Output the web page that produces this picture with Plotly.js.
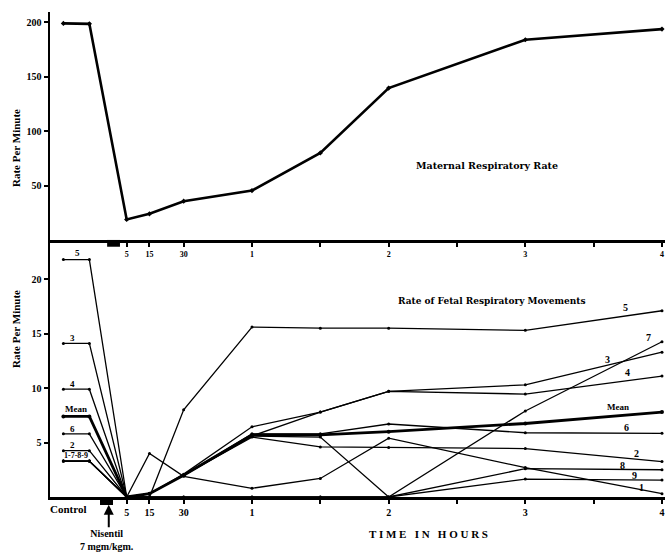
<!DOCTYPE html>
<html><head><meta charset="utf-8">
<script src="https://cdn.plot.ly/plotly-3.0.1.min.js"></script>
<style>html,body{margin:0;padding:0;background:#fff}</style>
</head><body><div id="chart" style="width:667px;height:553px"></div>
<script>
// time in hours (negative = control period)
const times = [-0.38, -0.19, 0.083, 0.25, 0.5, 1, 1.5, 2, 3, 4];
const maternalRate = [199, 198.6, 18.8, 24, 35.6, 45.4, 80, 139.6, 184, 193.8];

const fetus1 = [3.3, 3.3, 0, 4.0, 1.9, 0.8, 1.7, 5.4, 2.7, 0.3];
const fetus2 = [4.25, 4.25, 0, 0.3, 2.0, 5.5, 4.6, 4.55, 4.45, 3.25];
const fetus3 = [14.1, 14.1, 0, 0.3, 2.1, 6.45, 7.8, 9.7, 10.3, 13.3];
const fetus4 = [9.9, 9.9, 0, 0.3, 2.0, 5.6, 7.8, 9.7, 9.45, 11.1];
const fetus5 = [21.8, 21.8, 0, 0, 8.0, 15.6, 15.5, 15.5, 15.3, 17.1];
const fetus6 = [5.8, 5.8, 0, 0.3, 2.0, 5.8, 5.8, 6.7, 5.9, 5.85];
const fetus7 = [3.3, 3.3, 0, 0, 0, 0, 0, 0, 7.9, 14.25];
const fetus8 = [3.3, 3.3, 0, 0.3, 2.0, 5.6, 5.5, 0, 2.6, 2.5];
const fetus9 = [3.3, 3.3, 0, 0, 0, 0, 0, 0, 1.65, 1.55];
const fetalMean = [7.4, 7.4, 0, 0.3, 2.0, 5.7, 5.7, 6.0, 6.75, 7.8];

const tickVals = [0.083, 0.25, 0.5, 1, 1.5, 2, 2.5, 3, 3.5, 4];
const tickText = ["5", "15", "30", "1", "", "2", "", "3", "", "4"];
const topYTicks = [50, 100, 150, 200];
const bottomYTicks = [5, 10, 15, 20];

const FONT = "Liberation Serif";
const WIDE = "DejaVu Serif";
const fetalList = [
  {name: "1", v: fetus1}, {name: "2", v: fetus2}, {name: "3", v: fetus3},
  {name: "4", v: fetus4}, {name: "5", v: fetus5}, {name: "6", v: fetus6},
  {name: "7", v: fetus7}, {name: "8", v: fetus8}, {name: "9", v: fetus9}
];

const traces = [];
traces.push({
  x: times, y: maternalRate, xaxis: "x2", yaxis: "y2", mode: "lines+markers",
  line: {color: "#000", width: 2.6}, marker: {color: "#000", size: 4, symbol: "diamond"},
  hoverinfo: "skip"
});
fetalList.forEach(f => traces.push({
  x: times, y: f.v, xaxis: "x", yaxis: "y", mode: "lines+markers", name: f.name,
  line: {color: "#000", width: 1.3}, marker: {color: "#000", size: 3},
  hoverinfo: "skip"
}));
traces.push({
  x: times, y: fetalMean, xaxis: "x", yaxis: "y", mode: "lines+markers", name: "Mean",
  line: {color: "#000", width: 2.8}, marker: {color: "#000", size: 4},
  hoverinfo: "skip"
});

const xr = [-0.478, 4.022];
const tf = {family: FONT, size: 10, color: "#000", weight: 700};

function lab(text, x, y, size, fam) {
  return {text: text, x: x, y: y, xref: "x", yref: "y", showarrow: false,
    font: {family: fam || FONT, size: size || 10, color: "#000", weight: 700}};
}
function paperLab(text, x, y, size) {
  return {text: text, x: x, y: y, xref: "x", yref: "paper", showarrow: false,
    font: {family: FONT, size: size || 10, color: "#000", weight: 700}};
}

const annotations = [
  // left control labels
  lab("5", -0.28, 22.4, 9), lab("3", -0.316, 14.6, 9), lab("4", -0.316, 10.4, 9),
  lab("Mean", -0.29, 8.1, 9), lab("6", -0.316, 6.2, 9), lab("2", -0.316, 4.8, 9),
  lab("1-7-8-9", -0.29, 3.85, 8),
  // right end labels
  lab("5", 3.73, 17.4, 10), lab("7", 3.90, 14.6, 10), lab("3", 3.60, 12.6, 10),
  lab("4", 3.75, 11.4, 10), lab("Mean", 3.68, 8.3, 9), lab("6", 3.74, 6.4, 10),
  lab("2", 3.81, 4.0, 10), lab("8", 3.71, 2.9, 10), lab("9", 3.80, 2.0, 10),
  lab("1", 3.85, 0.85, 10),
  lab("Rate of Fetal Respiratory Movements", 2.75, 18.0, 9, WIDE),
  {text: "Maternal Respiratory Rate", x: 2.72, y: 68, xref: "x2", yref: "y2", showarrow: false,
    font: {family: WIDE, size: 9.5, color: "#000", weight: 700}},
  paperLab("Control", -0.346, -0.042, 11),
  paperLab("Nisentil<br>7 mgm/kgm.", -0.06, -0.118, 10),
  paperLab("T I M E   I N   H O U R S", 2.29, -0.093, 11),
  {text: "", x: -0.048, y: -0.016, xref: "x", yref: "paper", showarrow: true,
    ax: 0, ay: 24, arrowhead: 2, arrowsize: 1, arrowwidth: 2, arrowcolor: "#000"},
  {text: "Rate Per Minute", xref: "paper", yref: "paper",
    x: (8 - 50) / 615, y: (497 - 107) / 485, textangle: -90, showarrow: false,
    font: {family: FONT, size: 11, color: "#000", weight: 700}},
  {text: "Rate Per Minute", xref: "paper", yref: "paper",
    x: (8 - 50) / 615, y: (497 - 370) / 485, textangle: -90, showarrow: false,
    font: {family: FONT, size: 11, color: "#000", weight: 700}}
];

const shapes = [
  {type: "rect", xref: "x", yref: "paper", x0: -0.112, x1: -0.017, y0: -0.0165, y1: 0,
    fillcolor: "#000", line: {width: 0}},
  {type: "rect", xref: "x", yref: "paper", x0: -0.06, x1: 0.034, y0: 0.516, y1: 0.53,
    fillcolor: "#000", line: {width: 0}}
];

const layout = {
  width: 667, height: 553,
  margin: {l: 50, r: 2, t: 12, b: 56},
  paper_bgcolor: "#fff", plot_bgcolor: "#fff",
  showlegend: false,
  font: {family: FONT, color: "#000"},
  xaxis: {domain: [0, 1], anchor: "y", range: xr, tickvals: tickVals, ticktext: tickText,
    ticks: "outside", ticklen: 4, tickwidth: 2, tickcolor: "#000", tickfont: tf,
    showline: true, linewidth: 3, linecolor: "#000", showgrid: false, zeroline: false},
  yaxis: {domain: [0, 0.53], anchor: "x", range: [0, 23.6], tickvals: bottomYTicks,
    ticks: "outside", ticklen: 4, tickwidth: 2, tickcolor: "#000", tickfont: tf,
    showline: true, linewidth: 2.5, linecolor: "#000", showgrid: false, zeroline: false},
  xaxis2: {domain: [0, 1], anchor: "y2", range: xr, tickvals: tickVals, ticktext: tickText,
    ticks: "outside", ticklen: 4, tickwidth: 2, tickcolor: "#000",
    tickfont: {family: FONT, size: 8, color: "#000", weight: 700},
    showline: true, linewidth: 3, linecolor: "#000", showgrid: false, zeroline: false},
  yaxis2: {domain: [0.53, 1], anchor: "x2", range: [0, 209.5], tickvals: topYTicks,
    ticks: "outside", ticklen: 4, tickwidth: 2, tickcolor: "#000", tickfont: tf,
    showline: true, linewidth: 2.5, linecolor: "#000", showgrid: false, zeroline: false},
  annotations: annotations,
  shapes: shapes
};

Plotly.newPlot("chart", traces, layout, {staticPlot: true, displayModeBar: false});
</script>
</body></html>
